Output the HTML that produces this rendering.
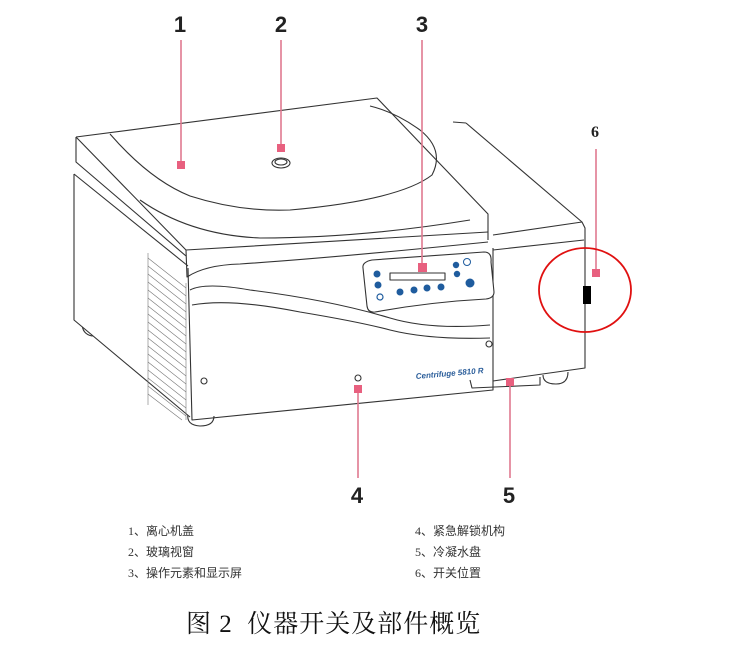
<!DOCTYPE html>
<html><head><meta charset="utf-8"><style>
html,body{margin:0;padding:0;background:#fff;}
body{width:733px;height:646px;position:relative;overflow:hidden;}
.lg{position:absolute;font:12px "Liberation Serif","Noto Sans CJK SC",serif;color:#333;}
.cap{position:absolute;left:186px;top:604px;font:25px "Liberation Serif","Noto Serif CJK SC",serif;color:#111;letter-spacing:1px;}
</style></head><body>
<svg width="733" height="646" style="position:absolute;left:0;top:0" xmlns="http://www.w3.org/2000/svg">
<g fill="none" stroke="#333" stroke-width="1.1" stroke-linejoin="round">
<path d="M82 323 Q82 334 92 336 Q100 334 100 325" fill="#fff"/>
<path d="M188 414 Q186 425 200 426 Q214 426 214 416" fill="#fff"/>
<path d="M543 375 Q543 384 556 384 Q568 384 568 372" fill="#fff"/>
<path d="M470 380 L472 388 L540 385 L540 377"/>
<path d="M74 174 L74 320 L190 417" fill="#fff"/>
<path d="M74 174 L188 266"/>
<path d="M188 268 L192 420 L493 390 L493 248"/>
<path d="M493 235 L582 222 L585 228 L585 368 L493 381"/>
<path d="M493 250 L584 240"/>
<path d="M466 123 L582 222"/>
<path d="M453 122 L466 123"/>
<path d="M76 137 L377 98 L488 214 L488 240" fill="#fff"/>
<path d="M76 137 L76 162 L186 256"/>
<path d="M76 137 L186 250 L488 232"/>
<path d="M186 250 L187 277 Q205 265 240 264 Q330 258 488 242"/>
<path d="M110 134 Q150 180 190 196 Q240 212 290 210 Q400 200 432 175 Q445 150 420 130 Q395 112 370 106"/>
<path d="M140 200 Q190 235 260 238 Q360 238 470 220"/>
<path d="M190 290 Q205 282 250 290 Q330 300 390 318 Q430 330 490 325"/>
<path d="M192 305 Q230 298 300 312 Q360 322 390 330 Q430 340 490 338"/>
<path d="M363 268 Q362 262 372 260 L484 252 Q492 252 491 262 L494 292 Q494 298 486 299 Q430 302 375 312 Q368 313 367 306 Z" fill="#fff"/>
<rect x="390" y="273" width="55" height="7" fill="#fff"/>
<g stroke="#777" stroke-width="0.6">
<path d="M148 253 L148 405 M186 283 L186 420"/>
<path d="M148 258 L186 288 M148 266 L186 296 M148 274 L186 304 M148 282 L186 312 M148 290 L186 320 M148 298 L186 328 M148 306 L186 336 M148 314 L186 344 M148 322 L186 352 M148 330 L186 360 M148 338 L186 368 M148 346 L186 376 M148 354 L186 384 M148 362 L186 392 M148 370 L186 400 M148 378 L186 408 M148 386 L186 416 M148 394 L182 420"/>
</g>
<circle cx="204" cy="381" r="3"/><circle cx="358" cy="378" r="3"/><circle cx="489" cy="344" r="3"/>
<ellipse cx="281" cy="163" rx="9" ry="5"/><ellipse cx="281" cy="162" rx="6" ry="3"/>
</g>
<g fill="#1f5c9e">
<circle cx="377" cy="274" r="3.5"/><circle cx="378" cy="285" r="3.5"/>
<circle cx="400" cy="292" r="3.5"/><circle cx="414" cy="290" r="3.5"/><circle cx="427" cy="288" r="3.5"/><circle cx="441" cy="287" r="3.5"/>
<circle cx="456" cy="265" r="3.2"/><circle cx="457" cy="274" r="3.2"/><circle cx="470" cy="283" r="4.5"/>
</g>
<circle cx="380" cy="297" r="3" fill="none" stroke="#1f5c9e" stroke-width="1.2"/>
<circle cx="467" cy="262" r="3.5" fill="none" stroke="#1f5c9e" stroke-width="1"/>
<text x="416" y="379" font-family="Liberation Sans,sans-serif" font-size="8" font-style="italic" font-weight="bold" fill="#2a5d9a" transform="rotate(-5 416 379)">Centrifuge 5810 R</text>
<g stroke="#e07a90" stroke-width="1.6">
<line x1="181" y1="40" x2="181" y2="165"/>
<line x1="281" y1="40" x2="281" y2="146"/>
<line x1="422" y1="40" x2="422" y2="266"/>
<line x1="358" y1="390" x2="358" y2="478"/>
<line x1="510" y1="383" x2="510" y2="478"/>
<line x1="596" y1="149" x2="596" y2="272"/>
</g>
<g fill="#e8607f">
<rect x="177" y="161" width="8" height="8"/>
<rect x="277" y="144" width="8" height="8"/>
<rect x="418" y="263" width="9" height="9"/>
<rect x="354" y="385" width="8" height="8"/>
<rect x="506" y="378" width="8" height="8"/>
<rect x="592" y="269" width="8" height="8"/>
</g>
<ellipse cx="585" cy="290" rx="46" ry="42" fill="none" stroke="#e01010" stroke-width="1.8"/>
<rect x="583" y="286" width="8" height="18" fill="#000"/>
<g font-family="Liberation Sans,sans-serif" font-weight="bold" font-size="22" fill="#222" text-anchor="middle">
<text x="180" y="32">1</text><text x="281" y="32">2</text><text x="422" y="32">3</text>
<text x="357" y="503">4</text><text x="509" y="503">5</text>
</g>
<text x="595" y="137" font-family="Liberation Serif,serif" font-weight="bold" font-size="16" fill="#222" text-anchor="middle">6</text>
</svg>
<div class="lg" style="left:128px;top:522px">1、离心机盖</div>
<div class="lg" style="left:128px;top:543px">2、玻璃视窗</div>
<div class="lg" style="left:128px;top:564px">3、操作元素和显示屏</div>
<div class="lg" style="left:415px;top:522px">4、紧急解锁机构</div>
<div class="lg" style="left:415px;top:543px">5、冷凝水盘</div>
<div class="lg" style="left:415px;top:564px">6、开关位置</div>
<div class="cap">图 2&nbsp; 仪器开关及部件概览</div>
</body></html>
